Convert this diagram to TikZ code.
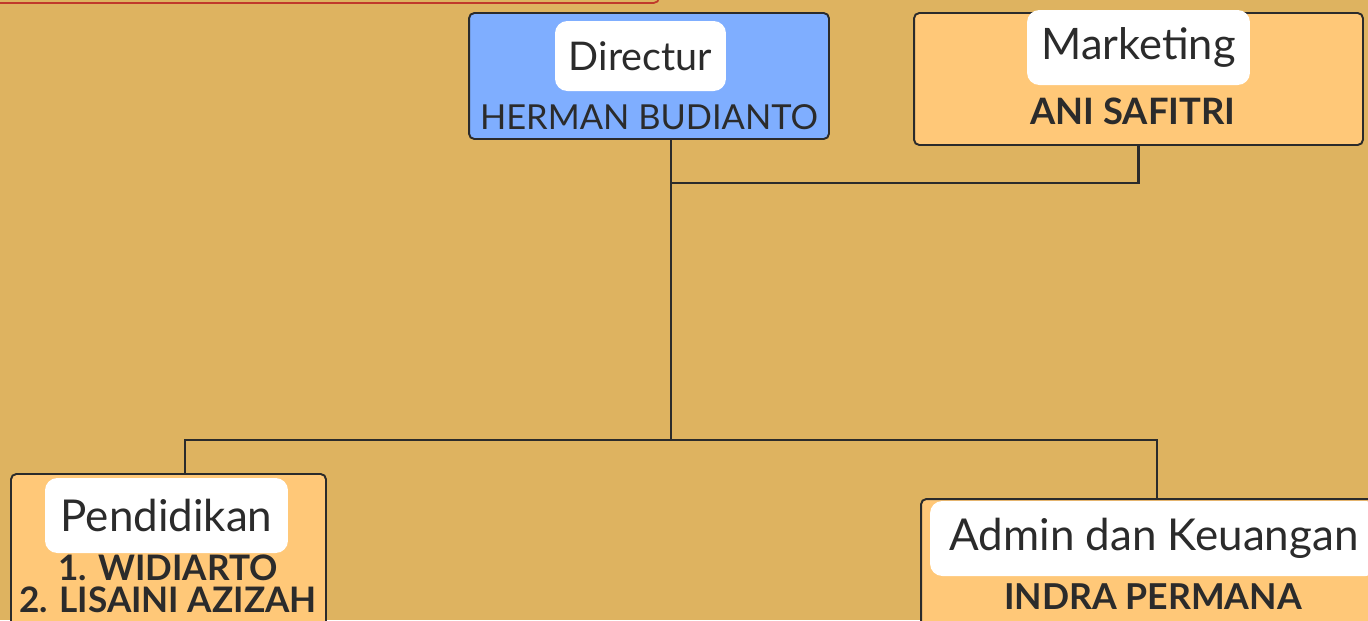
\documentclass[tikz,border=0pt]{standalone}
\usepackage{fontspec}
\setmainfont{Lato}
\usetikzlibrary{positioning}
\definecolor{bgbrown}{HTML}{DEB360}
\definecolor{boxorange}{HTML}{FFC878}
\definecolor{boxblue}{HTML}{7FAEFF}
\definecolor{inkdark}{HTML}{2B2B2B}
\definecolor{lineRed}{HTML}{C0392B}
\tikzset{box/.style={draw=inkdark, line width=1.1pt, rounded corners=3pt, fill=boxorange},
         lbl/.style={fill=white, rounded corners=7pt, text=inkdark, inner sep=0pt},
         who/.style={text=inkdark, inner sep=0pt, align=center},
         link/.style={draw=inkdark, line width=1.2pt},
        }

\begin{document}
\begin{tikzpicture}[x=0.02cm, y=-0.02cm]
        \useasboundingbox (0,0) rectangle (1368,620);
        \clip (0,0) rectangle (1368,620);
        \fill[bgbrown](0,0)rectangle(1368,620);
        \draw[draw=lineRed, line width=1pt, rounded corners=3pt](-20,-40)rectangle(659,3);

        \node[box, fill=boxblue, minimum width=7.2cm, minimum height=2.52cm](dir)at(649,76){};
        \node[lbl, minimum width=3.42cm, minimum height=1.4cm, font=\fontsize{22.5}{26}\selectfont](dirlbl)at(640.5,56){Directur};
        \node[who, font=\fontsize{19.6}{22}\selectfont](dirname)at(649,117){HERMAN BUDIANTO};

        \node[box, minimum width=8.98cm, minimum height=2.64cm](mkt)at(1138.5,79){};
        \node[lbl, minimum width=4.46cm, minimum height=1.5cm, font=\fontsize{24.7}{28}\selectfont](mktlbl)at(1138.5,47.5){Marketing};
        \node[who, font=\fontsize{20.7}{24}\bfseries](mktname)at(1133,111){ANI SAFITRI};

        \node[box, minimum width=6.3cm, minimum height=3.72cm](pend)at(168.5,567){};
        \node[lbl, minimum width=4.86cm, minimum height=1.5cm, font=\fontsize{25}{28}\selectfont](pendlbl)at(166.5,515.5){Pendidikan};
        \node[who, font=\fontsize{20}{18.5}\bfseries](pendname)at(168,584){1. WIDIARTO\\ 2. LISAINI AZIZAH};

        \node[box, minimum width=9.98cm, minimum height=4.02cm](adm)at(1170.5,599.5){};
        \node[lbl, minimum width=8.96cm, minimum height=1.5cm, font=\fontsize{25}{28}\selectfont](admlbl)at(1154,538.5){Admin dan Keuangan};
        \node[who, font=\fontsize{20.3}{24}\bfseries](admname)at(1153,597){INDRA PERMANA};

        % lines between the boxes
        \coordinate(hub)at(671,440);
        \coordinate(mj)at(671,183);
        \coordinate(pl)at(185,440);
        \coordinate(ar)at(1157,440);
        \draw[link](hub |- dir.south)--(hub);
        \draw[link](mj)-|(mkt.south);
        \draw[link](pl |- pend.north)--(pl)--(ar)--(ar |- adm.north);
    \end{tikzpicture}
\end{document}
